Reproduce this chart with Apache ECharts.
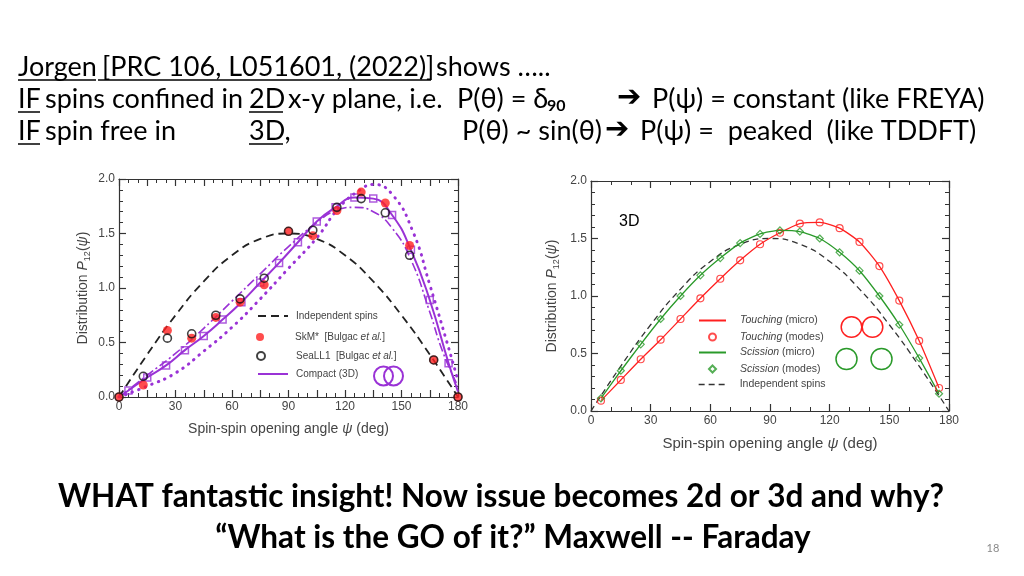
<!DOCTYPE html>
<html><head><meta charset="utf-8">
<script src="https://cdn.jsdelivr.net/npm/echarts@6/dist/echarts.min.js"></script>
<style>html,body{margin:0;padding:0;background:#fff}#c{width:1024px;height:576px}</style>
</head><body><div id="c"></div>
<script>
// ---------- DATA: left panel (Bulgac et al. comparison) ----------
const indepAngles = [0, 15, 30, 45, 60, 75, 90, 105, 120, 135, 150, 165, 180];
const indepValues = [0, 0.39, 0.75, 1.06, 1.30, 1.45, 1.50, 1.45, 1.30, 1.06, 0.75, 0.39, 0];

const bulgacAngles = [0, 12.9, 25.7, 38.6, 51.4, 64.3, 77.1, 90, 102.9, 115.7, 128.6, 141.4, 154.3, 167.1, 180];
const skmValues    = [0, 0.11, 0.61, 0.54, 0.73, 0.87, 1.03, 1.52, 1.48, 1.71, 1.88, 1.78, 1.39, 0.34, 0];
const seall1Values = [0, 0.19, 0.54, 0.58, 0.75, 0.90, 1.09, 1.52, 1.53, 1.74, 1.82, 1.69, 1.30, 0.34, 0];

const compactAngles = [0, 5, 15, 25, 35, 45, 55, 65, 75, 85, 95, 105, 115, 125, 135, 145, 155, 165, 175, 180];
const compactValues = [0, 0.06, 0.18, 0.29, 0.43, 0.56, 0.71, 0.87, 1.05, 1.23, 1.42, 1.61, 1.74, 1.83, 1.82, 1.67, 1.35, 0.89, 0.31, 0.05];
const squareAngles  = [5, 15, 25, 35, 45, 55, 65, 75, 85, 95, 105, 115, 125, 135, 145, 155, 165, 175];
const squareValues  = [0.06, 0.18, 0.29, 0.43, 0.56, 0.71, 0.87, 1.05, 1.23, 1.42, 1.61, 1.74, 1.83, 1.82, 1.67, 1.35, 0.89, 0.31];

const dashDotAngles = [0, 15, 30, 45, 60, 75, 90, 105, 115, 125, 135, 145, 155, 165, 172, 180];
const dashDotValues = [0, 0.20, 0.40, 0.63, 0.88, 1.13, 1.38, 1.60, 1.71, 1.74, 1.70, 1.55, 1.26, 0.78, 0.41, 0.10];

const dottedAngles = [0, 15, 30, 45, 60, 75, 90, 105, 117, 128, 135, 145, 156, 165, 174, 180];
const dottedValues = [0, 0.10, 0.22, 0.42, 0.64, 0.90, 1.18, 1.46, 1.74, 1.90, 1.95, 1.86, 1.52, 1.03, 0.51, 0.15];

// ---------- DATA: right panel (3D) ----------
const modeAngles = [5, 15, 25, 35, 45, 55, 65, 75, 85, 95, 105, 115, 125, 135, 145, 155, 165, 175];
const touchingValues = [0.09, 0.27, 0.45, 0.62, 0.80, 0.98, 1.15, 1.31, 1.45, 1.55, 1.63, 1.64, 1.59, 1.47, 1.26, 0.96, 0.61, 0.20];
const scissionValues = [0.11, 0.35, 0.58, 0.80, 1.00, 1.18, 1.33, 1.46, 1.54, 1.57, 1.56, 1.50, 1.38, 1.22, 1.00, 0.75, 0.46, 0.15];

// ---------- TEXT ----------
const xAxisTitle = 'Spin-spin opening angle {i|ψ} (deg)';
const yAxisTitle = 'Distribution {i|P}{s|12}({i|ψ})';
const nameIndep = 'Independent spins';
const nameSkm = 'SkM*  [Bulgac et al.]';
const nameSea = 'SeaLL1  [Bulgac et al.]';
const nameCompact = 'Compact (3D)';
const nameTouchMicro = 'Touching (micro)';
const nameTouchModes = 'Touching (modes)';
const nameSciMicro = 'Scission (micro)';
const nameSciModes = 'Scission (modes)';

const pair = (xs, ys) => xs.map((x, i) => [x, ys[i]]);

const PURPLE = '#9a32d6';
const RED = '#ff2020';
const GREEN = '#2a9a2a';
const AX = '#333';
const chartFont = 'Liberation Sans, Arial, sans-serif';

function xAx(grid, interval, minorSplit, pos, showLabel, size) {
  return {
    type: 'value', gridIndex: grid, min: 0, max: 180, interval: interval, position: pos,
    axisLine: { show: true, onZero: false, lineStyle: { color: AX, width: 1.2 } },
    axisTick: { show: true, inside: true, length: 7, lineStyle: { color: AX, width: 1.2 } },
    minorTick: { show: true, splitNumber: minorSplit, length: 4, lineStyle: { color: AX, width: 1 } },
    splitLine: { show: false },
    axisLabel: { show: showLabel, color: '#444', fontSize: 12, fontFamily: chartFont, margin: 4,
      formatter: v => (v % 30 === 0 ? String(v) : '') },
    name: showLabel ? xAxisTitle : '', nameLocation: 'middle', nameGap: 25,
    nameTextStyle: { color: '#444', fontSize: size, fontFamily: chartFont,
      rich: { i: { fontStyle: 'italic', fontSize: size, color: '#444', fontFamily: chartFont } } }
  };
}
function yAx(grid, pos, showLabel, gap) {
  return {
    type: 'value', gridIndex: grid, min: 0, max: 2, interval: 0.5, position: pos,
    axisLine: { show: true, onZero: false, lineStyle: { color: AX, width: 1.2 } },
    axisTick: { show: true, inside: true, length: 7, lineStyle: { color: AX, width: 1.2 } },
    minorTick: { show: true, splitNumber: 5, length: 4, lineStyle: { color: AX, width: 1 } },
    splitLine: { show: false },
    axisLabel: { show: showLabel, color: '#444', fontSize: 12, fontFamily: chartFont, margin: 4,
      formatter: v => v.toFixed(1) },
    name: showLabel ? yAxisTitle : '', nameLocation: 'middle', nameGap: gap, nameRotate: 90,
    nameTextStyle: { color: '#444', fontSize: 14, fontFamily: chartFont,
      rich: {
        i: { fontStyle: 'italic', fontSize: 14, color: '#444', fontFamily: chartFont },
        s: { fontSize: 9, color: '#444', fontFamily: chartFont, padding: [8, 0, 0, 0] }
      } }
  };
}

function legendRow(name, left, top, w, h, padLeft, size, isLine) {
  const lg = {
    data: [name], left: left, top: top, itemWidth: w, itemHeight: h, padding: 0,
    selectedMode: false, orient: 'horizontal',
    formatter: n => n.replace('et al.', '{i|et al.}').replace('Touching', '{i|Touching}').replace('Scission', '{i|Scission}'),
    textStyle: { color: '#444', fontSize: size, fontFamily: chartFont, padding: [0, 0, 0, padLeft],
      rich: { i: { fontStyle: 'italic', color: '#444', fontSize: size, fontFamily: chartFont } } }
  };
  if (isLine) lg.itemStyle = { opacity: 0 };
  return lg;
}

const hdrFont = '27px Lato, "Open Sans", sans-serif';
const arrowFont = 'bold 29px "DejaVu Sans", sans-serif';
const boldFont = 'bold 31.5px Lato, "Open Sans", sans-serif';
function txt(t, x, y, font) {
  return { type: 'text', style: { text: t, x: x, y: y, font: font, fill: '#000', verticalAlign: 'middle', textVerticalAlign: 'middle' } };
}
function uline(x1, x2, y) {
  return { type: 'line', shape: { x1: x1, y1: y, x2: x2, y2: y }, style: { stroke: '#000', lineWidth: 1.5 } };
}

const chart = echarts.init(document.getElementById('c'), null, { renderer: 'canvas' });
chart.setOption({
  backgroundColor: '#fff',
  animation: false,
  grid: [
    { left: 119, top: 179, width: 339, height: 218 },
    { left: 591, top: 181, width: 358, height: 230 }
  ],
  xAxis: [
    xAx(0, 15, 3, 'bottom', true, 14),
    xAx(0, 15, 3, 'top', false, 14),
    xAx(1, 30, 3, 'bottom', true, 15),
    xAx(1, 30, 3, 'top', false, 15)
  ],
  yAxis: [
    yAx(0, 'left', true, 27),
    yAx(0, 'right', false, 0),
    yAx(1, 'left', true, 30),
    yAx(1, 'right', false, 0)
  ],
  legend: [
    legendRow(nameIndep, 257, 311, 30, 10, 3, 10, true),
    legendRow(nameSkm, 256, 332, 8, 8, 26, 10, false),
    legendRow(nameSea, 256, 351, 8, 8, 26, 10, false),
    legendRow(nameCompact, 257, 369, 30, 10, 3, 10, true),
    legendRow(nameTouchMicro, 698, 315, 27, 8, 9, 10.5, true),
    legendRow(nameTouchModes, 708, 331.5, 7, 7, 19, 10.5, false),
    legendRow(nameSciMicro, 698, 347, 27, 8, 9, 10.5, true),
    legendRow(nameSciModes, 708, 363.5, 7, 7, 19, 10.5, false),
    Object.assign(legendRow(nameIndep, 698, 379, 27, 8, 9, 10.5, true), {
      data: [{ name: nameIndep, lineStyle: { color: '#333', width: 1.3, type: [6, 4] } }]
    })
  ],
  series: [
    { name: nameIndep, type: 'line', xAxisIndex: 0, yAxisIndex: 0, data: pair(indepAngles, indepValues),
      smooth: true, symbol: 'none', lineStyle: { color: '#222', width: 1.8, type: [8, 5] }, itemStyle: { color: '#222' }, z: 2 },
    { name: 'Compact dash-dot', type: 'line', xAxisIndex: 0, yAxisIndex: 0, data: pair(dashDotAngles, dashDotValues),
      smooth: true, symbol: 'none', lineStyle: { color: PURPLE, width: 1.6, type: [9, 3, 2, 3] }, z: 2 },
    { name: 'Compact dotted', type: 'line', xAxisIndex: 0, yAxisIndex: 0, data: pair(dottedAngles, dottedValues),
      smooth: true, symbol: 'none', lineStyle: { color: PURPLE, width: 3, type: [0.5, 6.5], cap: 'round' }, z: 2 },
    { name: nameCompact, type: 'line', xAxisIndex: 0, yAxisIndex: 0, data: pair(compactAngles, compactValues),
      smooth: true, symbol: 'none', lineStyle: { color: PURPLE, width: 2 }, itemStyle: { color: PURPLE }, z: 3 },
    { name: 'Compact points', type: 'scatter', xAxisIndex: 0, yAxisIndex: 0, data: pair(squareAngles, squareValues),
      symbol: 'rect', symbolSize: 7, itemStyle: { color: 'rgba(255,255,255,0)', borderColor: PURPLE, borderWidth: 1.5 }, z: 4 },
    { name: nameSkm, type: 'scatter', xAxisIndex: 0, yAxisIndex: 0, data: pair(bulgacAngles, skmValues),
      symbol: 'circle', symbolSize: 9, itemStyle: { color: RED }, z: 5 },
    { name: nameSea, type: 'scatter', xAxisIndex: 0, yAxisIndex: 0, data: pair(bulgacAngles, seall1Values),
      symbol: 'circle', symbolSize: 8, itemStyle: { color: 'rgba(255,255,255,0)', borderColor: '#111', borderWidth: 1.6 }, z: 6 },

    { name: nameIndep, type: 'line', xAxisIndex: 2, yAxisIndex: 2, data: pair(indepAngles, indepValues),
      smooth: true, symbol: 'none', lineStyle: { color: '#333', width: 1.3, type: [6, 4] }, itemStyle: { color: '#333' }, z: 2 },
    { name: nameTouchMicro, type: 'line', xAxisIndex: 2, yAxisIndex: 2, data: pair(modeAngles, touchingValues),
      smooth: 0.2, symbol: 'none', lineStyle: { color: RED, width: 1.3 }, itemStyle: { color: RED }, z: 3 },
    { name: nameTouchModes, type: 'scatter', xAxisIndex: 2, yAxisIndex: 2, data: pair(modeAngles, touchingValues),
      symbol: 'circle', symbolSize: 7, itemStyle: { color: 'rgba(255,255,255,0)', borderColor: RED, borderWidth: 1.2 }, z: 4 },
    { name: nameSciMicro, type: 'line', xAxisIndex: 2, yAxisIndex: 2, data: pair(modeAngles, scissionValues),
      smooth: 0.2, symbol: 'none', lineStyle: { color: GREEN, width: 1.3 }, itemStyle: { color: GREEN }, z: 3 },
    { name: nameSciModes, type: 'scatter', xAxisIndex: 2, yAxisIndex: 2, data: pair(modeAngles, scissionValues),
      symbol: 'diamond', symbolSize: 7, itemStyle: { color: 'rgba(255,255,255,0)', borderColor: GREEN, borderWidth: 1.2 }, z: 4 }
  ],
  graphic: [
    // header line 1
    txt('Jorgen', 18, 67, hdrFont), uline(18, 96, 80),
    txt('[PRC 106, L051601, (2022)]', 102, 67, hdrFont), uline(98, 431, 80),
    txt('shows …..', 436, 67, hdrFont),
    // header line 2
    txt('IF', 18, 99, hdrFont), uline(18, 40, 112),
    txt('spins confined in', 45, 99, hdrFont),
    txt('2D', 249, 99, hdrFont), uline(249, 283, 112),
    txt('x-y plane, i.e.', 288, 99, hdrFont),
    txt('P(θ) = δ', 457, 99, hdrFont),
    txt('90', 547, 106, 'bold 16px Lato, sans-serif'),
    txt('➔', 617, 98, arrowFont),
    txt('P(ψ) = constant (like FREYA)', 652, 99, hdrFont),
    // header line 3
    txt('IF', 18, 131, hdrFont), uline(18, 40, 144),
    txt('spin free in', 45, 131, hdrFont),
    txt('3D,', 249, 131, hdrFont), uline(249, 283, 144),
    txt('P(θ) ~ sin(θ)', 462, 131, hdrFont),
    txt('➔', 605, 130, arrowFont),
    txt('P(ψ) =  peaked  (like TDDFT)', 640, 131, hdrFont),
    // panel annotations
    txt('3D', 619, 222, '16px "Liberation Sans", Arial, sans-serif'),
    { type: 'circle', shape: { cx: 383.5, cy: 376, r: 9.5 }, style: { fill: 'none', stroke: PURPLE, lineWidth: 2 } },
    { type: 'circle', shape: { cx: 393.5, cy: 376, r: 9.5 }, style: { fill: 'none', stroke: PURPLE, lineWidth: 2 } },
    { type: 'circle', shape: { cx: 851.5, cy: 327, r: 10.3 }, style: { fill: 'none', stroke: RED, lineWidth: 1.5 } },
    { type: 'circle', shape: { cx: 872.5, cy: 327, r: 10.3 }, style: { fill: 'none', stroke: RED, lineWidth: 1.5 } },
    { type: 'circle', shape: { cx: 846.5, cy: 359, r: 10.5 }, style: { fill: 'none', stroke: GREEN, lineWidth: 1.5 } },
    { type: 'circle', shape: { cx: 881.5, cy: 359, r: 10.5 }, style: { fill: 'none', stroke: GREEN, lineWidth: 1.5 } },
    // footer
    { type: 'text', style: { text: 'WHAT fantastic insight! Now issue becomes 2d or 3d and why?', x: 501, y: 497, font: boldFont, fill: '#000', align: 'center', textAlign: 'center', verticalAlign: 'middle', textVerticalAlign: 'middle' } },
    { type: 'text', style: { text: '“What is the GO of it?” Maxwell -- Faraday', x: 513, y: 538, font: boldFont, fill: '#000', align: 'center', textAlign: 'center', verticalAlign: 'middle', textVerticalAlign: 'middle' } },
    { type: 'text', style: { text: '18', x: 993, y: 548, font: '11px Lato, sans-serif', fill: '#8a8a8a', textAlign: 'center', verticalAlign: 'middle', textVerticalAlign: 'middle' } }
  ]
});
</script>
</body></html>
